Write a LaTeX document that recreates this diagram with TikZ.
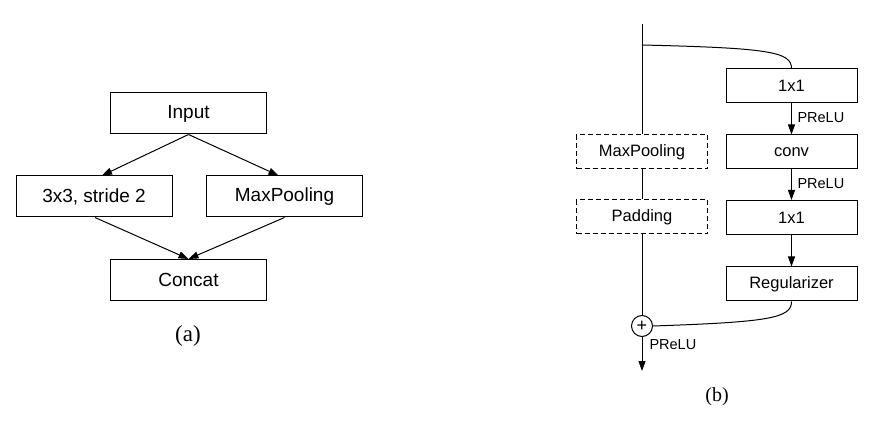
\documentclass[tikz,border=0pt]{standalone}
\usepackage{fontspec}
\setmainfont{Liberation Serif}
\newfontfamily\hv{Liberation Sans}
\usetikzlibrary{arrows.meta}
\begin{document}
\begin{tikzpicture}[x=1pt,y=-1pt, line width=1pt,
 boxa/.style={draw, minimum width=156pt, minimum height=41pt, inner sep=0pt, font=\hv\fontsize{19}{22}\selectfont},
 boxb/.style={draw, minimum width=131pt, minimum height=34pt, inner sep=0pt, font=\hv\fontsize{16.5}{19}\selectfont},
 dbox/.style={boxb, dash pattern=on 5pt off 3pt},
 arr/.style={-{Triangle[length=10pt,width=7pt]}},
 lbl/.style={font=\hv\fontsize{14.5}{17}\selectfont, anchor=west, inner sep=0pt}]
\useasboundingbox (0,0) rectangle (876,422);
% (a)
\node[boxa] (in) at (188.5,113.5) {Input};
\node[boxa] (c3) at (94,196.5) {3x3, stride 2};
\node[boxa] (mp) at (284.5,196.5) {MaxPooling};
\node[boxa] (cc) at (188.5,280) {Concat};
\node[font=\fontsize{23}{26}\selectfont, inner sep=0pt] (la) at (188,336) {(a)};
\draw[arr] (in.south) -- ([xshift=8pt]c3.north);
\draw[arr] (in.south) -- ([xshift=-6pt]mp.north);
\draw[arr] ([xshift=1pt]c3.south) -- (cc.north);
\draw[arr] (mp.south) -- (cc.north);
% (b)
\coordinate (top) at (642,24);
\coordinate (br) at (642,45);
\coordinate (out) at (642,371);
\node[dbox] (mp2) at (642,152) {MaxPooling};
\node[dbox] (pad) at (642,217) {Padding};
\node[draw, circle, minimum size=21pt, inner sep=0pt, font=\hv\fontsize{18}{18}\selectfont] (plus) at (642,326) {+};
\node[boxb] (b1) at (791.5,86) {1x1};
\node[boxb] (cv) at (791.5,152) {conv};
\node[boxb] (b2) at (791.5,217.5) {1x1};
\node[boxb] (reg) at (791.5,284) {Regularizer};
\draw (top) -- (mp2.north);
\draw (mp2.south) -- (pad.north);
\draw (pad.south) -- (plus.north);
\draw[arr] (plus.south) -- (out);
\draw (br) .. controls (770,48) and (791.5,52) .. (b1.north);
\draw (reg.south) .. controls (791.5,318) and (770,322) .. (plus.east);
\draw[arr] (b1.south) -- (cv.north);
\draw[arr] (cv.south) -- (b2.north);
\draw[arr] (b2.south) -- (reg.north);
\node[lbl] (p1) at (797,118) {PReLU};
\node[lbl] (p2) at (797,184) {PReLU};
\node[lbl] (p3) at (649,345) {PReLU};
\node[font=\fontsize{20}{23}\selectfont, inner sep=0pt] (lb) at (717,397) {(b)};
\end{tikzpicture}
\end{document}
